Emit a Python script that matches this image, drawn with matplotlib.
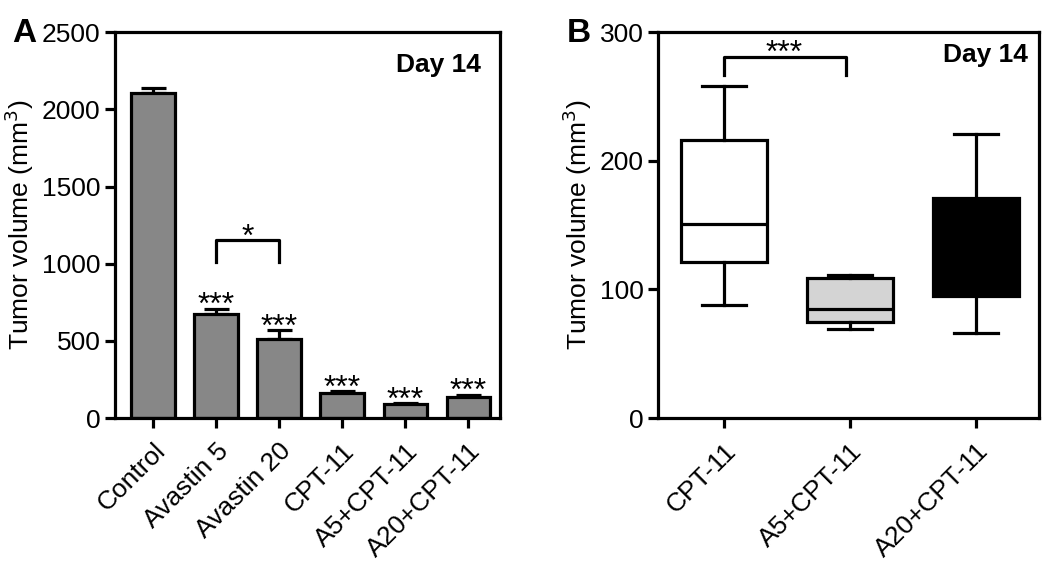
import numpy as np
import matplotlib
matplotlib.use("Agg")
import matplotlib.pyplot as plt

plt.rcParams['font.family'] = ['Liberation Sans', 'DejaVu Sans']

# ---------------- data ----------------
# panel A: mean tumor volume (mm3) at day 14 + upper error
groups_a = ["Control", "Avastin 5", "Avastin 20", "CPT-11", "A5+CPT-11", "A20+CPT-11"]
means_a = [2104, 677, 515, 162, 89, 136]
errs_a = [33, 32, 54, 13, 6, 15]
stars_a = ["", "***", "***", "***", "***", "***"]

# panel B: box plot summary (whisker low, q1, median, q3, whisker high)
groups_b = ["CPT-11", "A5+CPT-11", "A20+CPT-11"]
whislo_b = [88, 69, 66]
q1_b = [121, 75, 95]
med_b = [151, 85, 120]
q3_b = [216, 109, 171]
whishi_b = [258, 111, 221]
box_colors = ["white", "#d4d4d4", "black"]

LW = 2.3
STAR = 23
fig = plt.figure(figsize=(10.5, 5.75), dpi=100)

# ---------------- panel A ----------------
axA = fig.add_axes([0.1095, 0.273, 0.3667, 0.671])
x = np.arange(len(groups_a))
axA.bar(x, means_a, width=0.69, color="#878787", edgecolor="black", linewidth=LW, zorder=2)
axA.errorbar(x, means_a, yerr=[np.zeros(len(x)), errs_a], fmt="none", ecolor="black",
             elinewidth=LW, capsize=9, capthick=LW, zorder=1)
for xi, m, e, s in zip(x, means_a, errs_a, stars_a):
    if s:
        axA.annotate(s, xy=(xi, m + e), xytext=(0, -4), textcoords="offset points",
                     ha="center", va="baseline", fontsize=STAR)
# bracket Avastin 5 vs Avastin 20
axA.plot([1, 1, 2, 2], [1012, 1153, 1153, 1012], color="black", lw=LW)
axA.annotate("*", xy=(1.5, 1153), xytext=(0, -4), textcoords="offset points",
             ha="center", va="baseline", fontsize=STAR)
axA.text(0.95, 0.915, "Day 14", transform=axA.transAxes, ha="right", va="center",
         fontsize=19, fontweight="bold")
axA.set_xlim(-0.6, 5.5)
axA.set_ylim(0, 2500)
axA.set_yticks([0, 500, 1000, 1500, 2000, 2500])
axA.set_xticks(x)
axA.set_xticklabels(groups_a, rotation=45, ha="right", rotation_mode="anchor", fontsize=20)
axA.set_ylabel("Tumor volume (mm$^3$)", fontsize=19)

# ---------------- panel B ----------------
axB = fig.add_axes([0.6267, 0.273, 0.363, 0.671])
stats = []
for i in range(len(groups_b)):
    stats.append(dict(whislo=whislo_b[i], q1=q1_b[i], med=med_b[i], q3=q3_b[i],
                      whishi=whishi_b[i], fliers=[]))
xb = np.arange(len(groups_b))
bp = axB.bxp(stats, positions=xb, widths=0.68, patch_artist=True, showfliers=False,
             boxprops=dict(linewidth=LW, edgecolor="black"),
             medianprops=dict(color="black", linewidth=LW),
             whiskerprops=dict(color="black", linewidth=LW),
             capprops=dict(color="black", linewidth=LW), capwidths=0.35)
for patch, c in zip(bp["boxes"], box_colors):
    patch.set_facecolor(c)
axB.plot([0, 0, 0.97, 0.97], [267, 281, 281, 267], color="black", lw=LW)
axB.annotate("***", xy=(0.48, 281), xytext=(0, -4), textcoords="offset points",
             ha="center", va="baseline", fontsize=STAR)
axB.text(0.97, 0.94, "Day 14", transform=axB.transAxes, ha="right", va="center",
         fontsize=19, fontweight="bold")
axB.set_xlim(-0.52, 2.5)
axB.set_ylim(0, 300)
axB.set_yticks([0, 100, 200, 300])
axB.set_xticks(xb)
axB.set_xticklabels(groups_b, rotation=45, ha="right", rotation_mode="anchor", fontsize=16.5)
axB.set_ylabel("Tumor volume (mm$^3$)", fontsize=19)

for ax in (axA, axB):
    for sp in ax.spines.values():
        sp.set_linewidth(LW)
    ax.tick_params(axis="both", which="major", length=7, width=LW, direction="out",
                   labelsize=19)
    ax.tick_params(axis="x", pad=8)

fig.text(12 / 1050, 1 - 33 / 575, "A", fontsize=24, fontweight="bold", va="center")
fig.text(567 / 1050, 1 - 33 / 575, "B", fontsize=24, fontweight="bold", va="center")

fig.savefig("out.png", dpi=100)
